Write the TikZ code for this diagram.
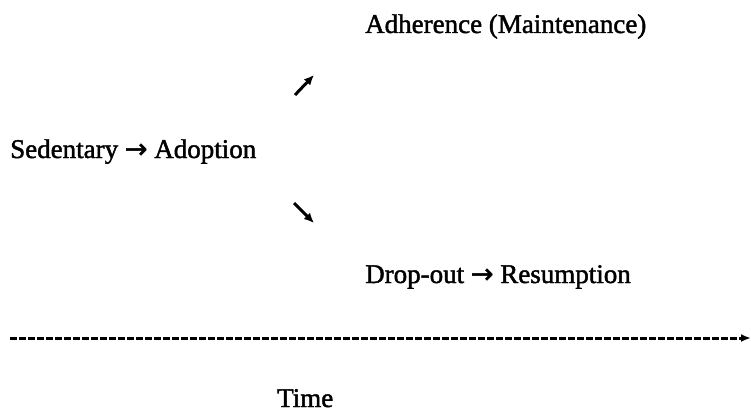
\documentclass[tikz,border=0pt]{standalone}
\usepackage{fontspec}
\setmainfont{Liberation Serif}[FakeBold=1.6]
\newfontfamily\arrowfont{DejaVu Sans}[FakeBold=1.8]
\newcommand{\sto}{\ {\arrowfont →}\ }
\usetikzlibrary{arrows.meta}
\begin{document}
\begin{tikzpicture}[x=1pt,y=-1pt,
	lbl/.style={inner sep=0pt,anchor=base west,font=\fontsize{27}{31}\selectfont},
	arr/.style={line width=3pt,-{Latex[length=10pt,width=9pt]}},
	timeline/.style={line width=3pt,dash pattern=on 7pt off 2pt,-{Latex[length=10pt,width=8pt]}}]
	\useasboundingbox (0,0) rectangle (751,414);
	\node[lbl] (sed) at (10,158) {Sedentary\sto Adoption};
	\node[lbl] (adh) at (365,33) {Adherence (Maintenance)};
	\node[lbl] (drop) at (365,283) {Drop-out\sto Resumption};
	\node[lbl] (time) at (277,407) {Time};
	% branch arrows
	\coordinate (up1) at (295,95);
	\coordinate (up2) at (314,75);
	\coordinate (dn1) at (294,203);
	\coordinate (dn2) at (314,223);
	\draw[arr] (up1) -- (up2);
	\draw[arr] (dn1) -- (dn2);
	% time axis
	\coordinate (t0) at (10,338);
	\coordinate (t1) at (751,338);
	\draw[timeline] (t0) -- (t1);
\end{tikzpicture}
\end{document}
